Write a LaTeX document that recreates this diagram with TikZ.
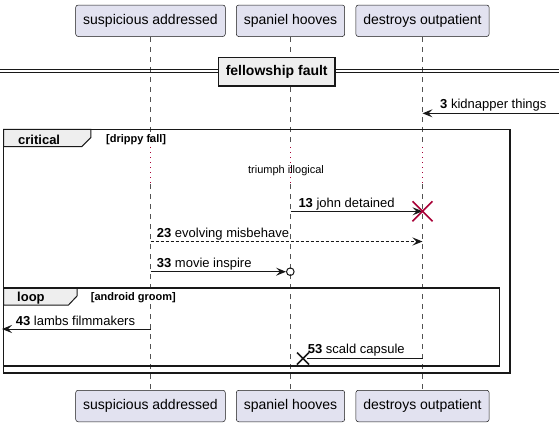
\documentclass[tikz,border=0pt]{standalone}
\usepackage{fontspec}
\setmainfont{Liberation Sans}
\usetikzlibrary{arrows.meta}
\definecolor{partfill}{HTML}{E2E2F0}
\definecolor{partline}{HTML}{181818}
\definecolor{grpfill}{HTML}{EEEEEE}
\definecolor{plred}{HTML}{A80036}
\begin{document}
\begin{tikzpicture}[x=1pt,y=-1pt,
  participant/.style={draw=partline, line width=0.5pt, fill=partfill, rounded corners=2.5pt,
    minimum height=31.5pt, inner xsep=7.5pt, font=\fontsize{14}{16}\selectfont},
  lifeline/.style={draw=partline!75, line width=0.6pt, dash pattern=on 5pt off 5pt},
  delayline/.style={draw=plred, line width=1pt, dash pattern=on 1pt off 4pt},
  msg/.style={draw=partline, line width=1pt},
  msgdash/.style={draw=partline, line width=0.8pt, dash pattern=on 3pt off 2pt},
  arr/.style={-{Stealth[length=10pt,width=8pt,inset=4pt]}},
  msglabel/.style={anchor=west, inner sep=0pt, font=\fontsize{13}{15}\selectfont},
  framebox/.style={draw=partline, line width=1.5pt},
  tabbox/.style={draw=partline, line width=1pt, fill=grpfill},
  tabtext/.style={anchor=west, inner sep=0pt, font=\bfseries\fontsize{13}{15}\selectfont},
  condtext/.style={anchor=west, inner sep=0pt, font=\bfseries\fontsize{11}{13}\selectfont},
  xred/.style={draw=plred, line width=1.6pt},
  xblack/.style={draw=partline, line width=1.5pt}
]
\useasboundingbox (0,0) rectangle (559,426);

% participants
\node[participant] (pa) at (150.5,20.75) {suspicious addressed};
\node[participant] (pb) at (290.5,20.75) {spaniel hooves};
\node[participant] (pc) at (422.5,20.75) {destroys outpatient};
\node[participant] (qa) at (150.5,406) {suspicious addressed};
\node[participant] (qb) at (290.5,406) {spaniel hooves};
\node[participant] (qc) at (422.5,406) {destroys outpatient};

% delay coordinates on lifelines
\coordinate (da1) at (pa |- 0,147); \coordinate (da2) at (pa |- 0,184);
\coordinate (db1) at (pb |- 0,147); \coordinate (db2) at (pb |- 0,184);
\coordinate (dc1) at (pc |- 0,147); \coordinate (dc2) at (pc |- 0,184);

% lifelines
\draw[lifeline] (pa.south) -- (da1); \draw[delayline] (da1) -- (da2); \draw[lifeline] (da2) -- (qa.north);
\draw[lifeline] (pb.south) -- (db1); \draw[delayline] (db1) -- (db2); \draw[lifeline] (db2) -- (qb.north);
\draw[lifeline] (pc.south) -- (dc1); \draw[delayline] (dc1) -- (dc2); \draw[lifeline] (dc2) -- (qc.north);

% divider
\coordinate (dl) at (0,69); \coordinate (dr) at (559,69);
\coordinate (dl2) at (0,72.5); \coordinate (dr2) at (559,72.5);
\draw[partline, line width=1pt] (dl) -- (dr) (dl2) -- (dr2);
\node[draw=partline, line width=1.5pt, fill=grpfill, minimum width=116.5pt, minimum height=28.5pt,
  inner sep=0pt, font=\bfseries\fontsize{14}{16}\selectfont] (div) at (276.7,71.7) {fellowship fault};

% message 3
\coordinate (r3) at (559,113.3); \coordinate (c3) at (pc |- 0,113.3);
\draw[msg,arr] (r3) -- (c3);
\node[msglabel] (l3) at (440,105) {\textbf{3} kidnapper things};

% critical frame
\coordinate (cf1) at (3.5,129.3); \coordinate (cf2) at (510,373);
\draw[tabbox] (3.5,129.3) -- (90.8,129.3) -- (90.8,137.5) -- (81.7,146.7) -- (3.5,146.7) -- cycle;
\draw[framebox] (cf1) rectangle (cf2);
\node[tabtext] (tcrit) at (18,140) {critical};
\node[condtext] (ccrit) at (106,140) {[drippy fall]};

% delay text
\node[inner sep=0pt, font=\fontsize{11}{13}\selectfont] (delay) at (286,170.5) {triumph illogical};

% message 13
\coordinate (b13) at (pb |- 0,211.3); \coordinate (c13) at (pc |- 0,211.3);
\draw[msg,arr] (b13) -- (c13);
\draw[xred] (c13) ++(-10,-10) -- ++(20,20) (c13) ++(-10,10) -- ++(20,-20);
\node[msglabel] (l13) at (298.3,204.5) {\textbf{13} john detained};

% message 23
\coordinate (a23) at (pa |- 0,241.5); \coordinate (c23) at (pc |- 0,241.5);
\draw[msgdash,arr] (a23) -- (c23);
\node[msglabel] (l23) at (156.7,234) {\textbf{23} evolving misbehave};

% message 33
\coordinate (a33) at (pa |- 0,271.7); \coordinate (b33) at (286,271.7); \coordinate (o33) at (290.3,271.7);
\draw[msg,arr] (a33) -- (b33);
\draw[partline, line width=1pt] (o33) circle (3.8);
\node[msglabel] (l33) at (156.7,264) {\textbf{33} movie inspire};

% loop frame
\coordinate (lf1) at (3.5,287.8); \coordinate (lf2) at (499.5,366);
\draw[tabbox] (3.5,287.8) -- (77,287.8) -- (77,296) -- (68.5,305) -- (3.5,305) -- cycle;
\draw[framebox] (lf1) rectangle (lf2);
\node[tabtext] (tloop) at (17,298) {loop};
\node[condtext] (cloop) at (90.7,298) {[android groom]};

% message 43
\coordinate (a43) at (pa |- 0,329); \coordinate (e43) at (2,329);
\draw[msg,arr] (a43) -- (e43);
\node[msglabel] (l43) at (15.7,320.5) {\textbf{43} lambs filmmakers};

% message 53
\coordinate (c53) at (pc |- 0,358.5); \coordinate (x53) at (303,358.5); \coordinate (e53) at (307,358.5);
\draw[msg] (c53) -- (e53);
\draw[xblack] (x53) ++(-6,-6) -- ++(12,12) (x53) ++(-6,6) -- ++(12,-12);
\node[msglabel] (l53) at (307.7,350.5) {\textbf{53} scald capsule};

\end{tikzpicture}
\end{document}
